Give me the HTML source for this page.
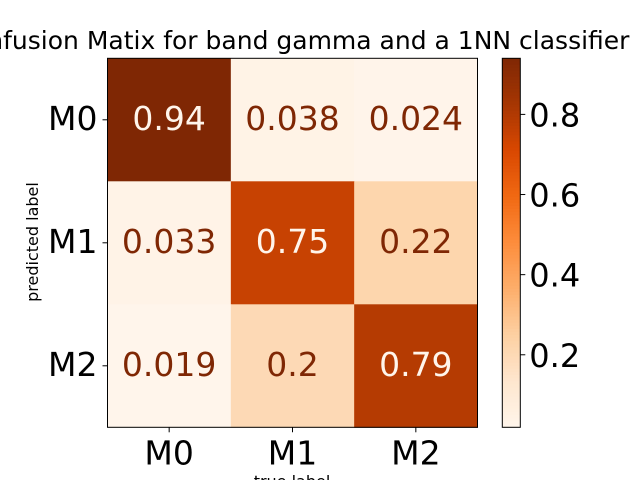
<!DOCTYPE html>
<html><head><meta charset="utf-8"><style>
body{margin:0;background:#fff;overflow:hidden}
svg{display:block;font-family:"DejaVu Sans","Liberation Sans",sans-serif}
</style></head><body>
<svg id="c" width="640" height="480"></svg>
<script>
const rowLabels=["M0","M1","M2"];
const colLabels=["M0","M1","M2"];
const values=[[0.94,0.038,0.024],[0.033,0.75,0.22],[0.019,0.2,0.79]];
const valueText=[["0.94","0.038","0.024"],["0.033","0.75","0.22"],["0.019","0.2","0.79"]];
const cbTicks=[0.2,0.4,0.6,0.8];
const cbTickText=["0.2","0.4","0.6","0.8"];

const NS="http://www.w3.org/2000/svg";
const svg=document.getElementById('c');
function mk(t,a,txt){const e=document.createElementNS(NS,t);for(const k in a)e.setAttribute(k,a[k]);if(txt!=null)e.textContent=txt;svg.appendChild(e);return e;}
const stops=["#fff5eb","#fee6ce","#fdd0a2","#fdae6b","#fd8d3c","#f16913","#d94801","#a63603","#7f2704"];
function hx(h){return [1,3,5].map(i=>parseInt(h.substr(i,2),16));}
function cmap(t){t=Math.max(0,Math.min(1,t));const p=t*8,i=Math.min(7,Math.floor(p)),f=p-i;const a=hx(stops[i]),b=hx(stops[i+1]);return "rgb("+a.map((v,k)=>Math.round(v+(b[k]-v)*f)).join(",")+")";}
const flat=values.flat();const vmin=Math.min(...flat),vmax=Math.max(...flat);
const L=107.5,T=58.3,W=370,H=369;
const cw=W/colLabels.length,ch=H/rowLabels.length;
const xs=j=>L+j*cw, ys=i=>T+i*ch;
const norm=v=>(v-vmin)/(vmax-vmin);

let e=mk('text',{x:292,y:49,'font-size':25,'text-anchor':'middle',fill:'#000'},"Confusion Matix for band gamma and a 1NN classifier");


for(let i=0;i<rowLabels.length;i++)for(let j=0;j<colLabels.length;j++){
  const v=values[i][j];
  e=mk('rect',{x:xs(j),y:ys(i),width:cw+0.5,height:ch+0.5,fill:cmap(norm(v))});
  
  e=mk('text',{x:xs(j)+cw/2,y:ys(i)+ch/2+10,'font-size':33,'text-anchor':'middle',fill:norm(v)>0.5?'#fff5eb':'#7f2704'},valueText[i][j]);
  
}
e=mk('rect',{x:L,y:T,width:W,height:H,fill:'none',stroke:'#000','stroke-width':1});


for(let i=0;i<rowLabels.length;i++){
  const y=ys(i)+ch/2;
  mk('line',{x1:L-5,y1:y,x2:L,y2:y,stroke:'#000'});
  e=mk('text',{x:L-10,y:y+10,'font-size':33,'text-anchor':'end',fill:'#000'},rowLabels[i]);
  
}
for(let j=0;j<colLabels.length;j++){
  const x=xs(j)+cw/2;
  mk('line',{x1:x,y1:T+H,x2:x,y2:T+H+5,stroke:'#000'});
  e=mk('text',{x:x,y:T+H+37,'font-size':33,'text-anchor':'middle',fill:'#000'},colLabels[j]);
  
}
e=mk('text',{x:38,y:242,'font-size':16,'text-anchor':'middle',fill:'#000',transform:'rotate(-90 38 242)'},"predicted label");

e=mk('text',{x:292,y:487,'font-size':16,'text-anchor':'middle',fill:'#000'},"true label");


const CX=502.3,CW=18,n=120;
const cy=v=>T+H*(1-(v-vmin)/(vmax-vmin));
for(let k=0;k<n;k++){
  mk('rect',{x:CX,y:T+H*k/n,width:CW,height:H/n+0.6,fill:cmap(1-(k+0.5)/n)});
}
e=mk('rect',{x:CX,y:T,width:CW,height:H,fill:'none',stroke:'#000'});

cbTicks.forEach((t,k)=>{
  const y=cy(t);
  mk('line',{x1:CX+CW,y1:y,x2:CX+CW+5,y2:y,stroke:'#000'});
  e=mk('text',{x:CX+CW+9,y:y+12,'font-size':32,fill:'#000'},cbTickText[k]);
  
});
</script>
</body></html>
